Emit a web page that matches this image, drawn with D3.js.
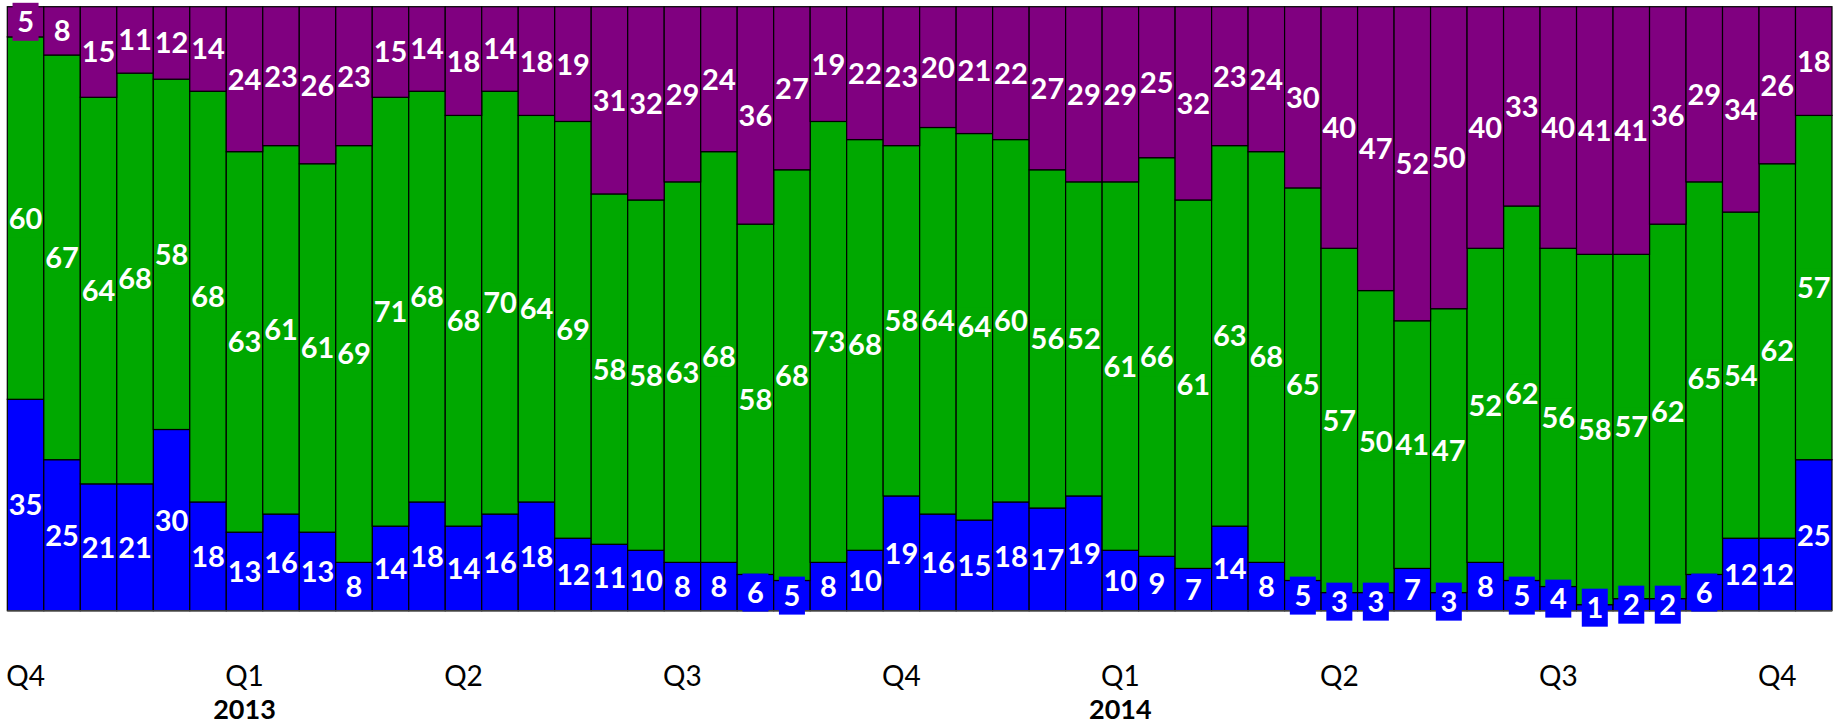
<!DOCTYPE html>
<html>
<head>
<meta charset="utf-8">
<script src="https://cdn.jsdelivr.net/npm/d3@7"></script>
<style>
  body { margin: 0; background: #fff; }
  .barLabel { font-family: Lato, "Open Sans", sans-serif; font-weight: 700; font-size: 29px; fill: #fff; }
  .tick text { font-family: Lato, "Open Sans", sans-serif; font-size: 28px; fill: #000; }
  .yearLabel { font-family: Lato, "Open Sans", sans-serif; font-weight: 700; font-size: 27px; fill: #000; }
</style>
</head>
<body>
<div id="chart"></div>
<script>
// stacked 100% bars - three series, bottom to top
var blueValues = [35, 25, 21, 21, 30, 18, 13, 16, 13, 8, 14, 18, 14, 16, 18, 12, 11, 10, 8, 8,
  6, 5, 8, 10, 19, 16, 15, 18, 17, 19, 10, 9, 7, 14, 8, 5, 3, 3, 7, 3,
  8, 5, 4, 1, 2, 2, 6, 12, 12, 25];
var greenValues = [60, 67, 64, 68, 58, 68, 63, 61, 61, 69, 71, 68, 68, 70, 64, 69, 58, 58, 63, 68,
  58, 68, 73, 68, 58, 64, 64, 60, 56, 52, 61, 66, 61, 63, 68, 65, 57, 50, 41, 47,
  52, 62, 56, 58, 57, 62, 65, 54, 62, 57];
var purpleValues = [5, 8, 15, 11, 12, 14, 24, 23, 26, 23, 15, 14, 18, 14, 18, 19, 31, 32, 29, 24,
  36, 27, 19, 22, 23, 20, 21, 22, 27, 29, 29, 25, 32, 23, 24, 30, 40, 47, 52, 50,
  40, 33, 40, 41, 41, 36, 29, 34, 26, 18];

// x tick labels (one every 6 bars) and year labels
var tickIndexes = [0, 6, 12, 18, 24, 30, 36, 42, 48];
var tickLabels = ["Q4", "Q1", "Q2", "Q3", "Q4", "Q1", "Q2", "Q3", "Q4"];
var yearIndexes = [6, 30];
var yearLabels = ["2013", "2014"];

var seriesKeys = ["blue", "green", "purple"];
var seriesColors = {blue: "#0000ff", green: "#00a800", purple: "#800080"};

var svgWidth = 1837;
var svgHeight = 727;

var margin = {
  top: 6.7,
  right: 5,
  bottom: 116.3,
  left: 7.3
};

var width = svgWidth - margin.left - margin.right;
var height = svgHeight - margin.top - margin.bottom;

var svg = d3
  .select("#chart")
  .append("svg")
  .attr("width", svgWidth)
  .attr("height", svgHeight);

var chartGroup = svg.append("g")
  .attr("transform", `translate(${margin.left}, ${margin.top})`);

// build rows for d3.stack from the arrays
var rows = blueValues.map(function(d, i) {
  return {index: i, blue: d, green: greenValues[i], purple: purpleValues[i]};
});

var stacked = d3.stack().keys(seriesKeys)(rows);

var xBandScale = d3.scaleBand()
  .domain(rows.map(d => d.index))
  .range([0, width])
  .padding(0);

var yLinearScale = d3.scaleLinear()
  .domain([0, 100])
  .range([height, 0]);

// bars
var layers = chartGroup.selectAll(".layer")
  .data(stacked)
  .enter()
  .append("g")
  .attr("class", "layer")
  .attr("fill", d => seriesColors[d.key]);

layers.selectAll("rect")
  .data(d => d)
  .enter()
  .append("rect")
  .attr("x", d => xBandScale(d.data.index))
  .attr("y", d => yLinearScale(d[1]))
  .attr("width", xBandScale.bandwidth())
  .attr("height", d => yLinearScale(d[0]) - yLinearScale(d[1]))
  .attr("stroke", "#000")
  .attr("stroke-width", 1.2);

// bottom axis line
chartGroup.append("line")
  .attr("x1", 0)
  .attr("x2", width)
  .attr("y1", height)
  .attr("y2", height)
  .attr("stroke", "#404040")
  .attr("stroke-width", 1.5);

// data labels, centred in each segment, boxed in the series colour
var labelGroups = chartGroup.selectAll(".labels")
  .data(stacked)
  .enter()
  .append("g")
  .attr("class", "labels");

var labelItems = labelGroups.selectAll("g")
  .data(d => d.map(p => ({key: d.key, p: p})))
  .enter()
  .append("g")
  .attr("transform", function(d) {
    var cx = xBandScale(d.p.data.index) + xBandScale.bandwidth() / 2;
    var cy = (yLinearScale(d.p[0]) + yLinearScale(d.p[1])) / 2;
    return `translate(${cx}, ${cy})`;
  });

// box width: 26px for one digit, nearly the bar width for two
function boxWidth(d) {
  return String(d.p.data[d.key]).length > 1 ? xBandScale.bandwidth() - 3 : 26;
}

labelItems.append("rect")
  .attr("x", d => -boxWidth(d) / 2)
  .attr("width", d => boxWidth(d))
  .attr("y", -19)
  .attr("height", 38)
  .attr("fill", d => seriesColors[d.key]);

labelItems.append("text")
  .attr("class", "barLabel")
  .attr("text-anchor", "middle")
  .attr("dy", "0.36em")
  .text(d => d.p.data[d.key]);

// x axis with quarter labels
var bottomAxis = d3.axisBottom(xBandScale)
  .tickValues(tickIndexes)
  .tickFormat((d, i) => tickLabels[i])
  .tickSize(0);

var xAxis = chartGroup.append("g")
  .attr("transform", `translate(0, ${height})`)
  .call(bottomAxis);

xAxis.select(".domain").remove();
xAxis.selectAll(".tick text")
  .attr("font-family", null)
  .attr("font-size", null)
  .attr("dy", "0.36em")
  .attr("y", 65);

// year labels under the first quarter of each year
chartGroup.selectAll(".yearLabel")
  .data(yearIndexes)
  .enter()
  .append("text")
  .attr("class", "yearLabel")
  .attr("text-anchor", "middle")
  .attr("x", d => xBandScale(d) + xBandScale.bandwidth() / 2)
  .attr("y", height + 99)
  .attr("dy", "0.36em")
  .text((d, i) => yearLabels[i]);
</script>
</body>
</html>
